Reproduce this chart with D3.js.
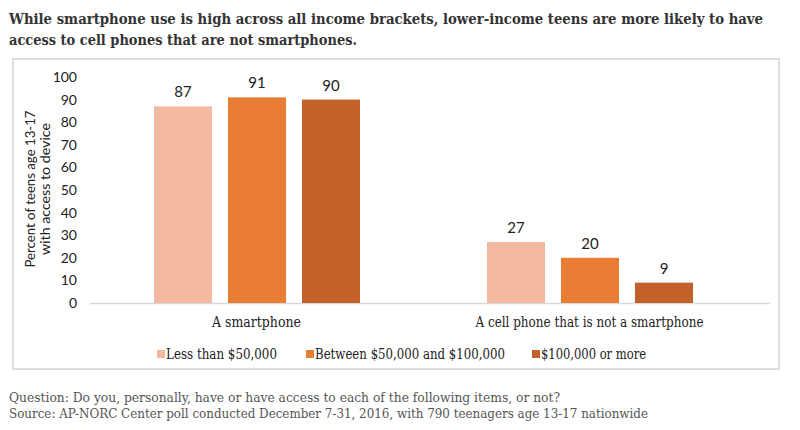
<!DOCTYPE html>
<html>
<head>
<meta charset="utf-8">
<script src="https://cdn.jsdelivr.net/npm/d3@7"></script>
<style>
  html, body { margin: 0; padding: 0; background: #fff; }
  svg { display: block; }
</style>
</head>
<body>
<svg id="chart" width="800" height="430"></svg>
<script>
const categories = ["A smartphone", "A cell phone that is not a smartphone"];
const seriesNames = ["Less than $50,000", "Between $50,000 and $100,000", "$100,000 or more"];
const lessThan50k = [87, 27];
const between50k100k = [91, 20];
const over100k = [90, 9];
const seriesValues = [lessThan50k, between50k100k, over100k];
const yTicks = [0, 10, 20, 30, 40, 50, 60, 70, 80, 90, 100];
const colors = ["#F4B9A1", "#E97D33", "#C2622A"];

const titleLines = [
  "While smartphone use is high across all income brackets, lower-income teens are more likely to have",
  "access to cell phones that are not smartphones."
];
const footerLines = [
  "Question: Do you, personally, have or have access to each of the following items, or not?",
  "Source: AP-NORC Center poll conducted December 7-31, 2016, with 790 teenagers age 13-17 nationwide"
];

const svg = d3.select("#chart");

// Title
svg.append("g").selectAll("text").data(titleLines).join("text")
  .attr("x", 9).attr("y", (d, i) => 24 + i * 21)
  .attr("textLength", (d, i) => i === 0 ? 754 : 348)
  .attr("lengthAdjust", "spacingAndGlyphs")
  .style("font-family", "'DejaVu Serif Condensed', 'DejaVu Serif', serif")
  .style("font-weight", "bold").style("font-size", "15px").style("fill", "#333")
  .text(d => d);

// Box
svg.append("rect").attr("x", 13).attr("y", 59).attr("width", 766).attr("height", 310)
  .attr("fill", "none").attr("stroke", "#dcdcdc").attr("stroke-width", 2);

// Scales
const y = d3.scaleLinear().domain([0, 100]).range([303, 77]);
const x0 = d3.scaleBand().domain(categories).range([90, 756]).padding(0);
const x1 = d3.scaleBand().domain(seriesNames).range([64, 270]).paddingInner(0.216).paddingOuter(0);

// Y axis labels
const yAxis = d3.axisLeft(y).tickValues(yTicks).tickSize(0).tickPadding(0);
const yg = svg.append("g").attr("transform", "translate(77,0)").call(yAxis);
yg.select(".domain").remove();
yg.selectAll("text")
  .style("font-family", "Lato, 'Open Sans', sans-serif")
  .style("font-size", "14px").style("fill", "#222");

// Y title
const yt = svg.append("g").attr("transform", "translate(35,189) rotate(-90)");
yt.selectAll("text").data(["Percent of teens age 13-17", "with access to device"]).join("text")
  .attr("x", 0).attr("y", (d, i) => i * 15)
  .attr("text-anchor", "middle")
  .attr("textLength", (d, i) => i === 0 ? 157 : 132)
  .attr("lengthAdjust", "spacingAndGlyphs")
  .style("font-family", "Lato, 'Open Sans', sans-serif")
  .style("font-size", "14px").style("fill", "#222")
  .text(d => d);

// Baseline
svg.append("line").attr("x1", 90).attr("x2", 770).attr("y1", y(0) + 0.5).attr("y2", y(0) + 0.5)
  .attr("stroke", "#d9d9d9").attr("stroke-width", 1.5);

// Bars
const flat = [];
categories.forEach((c, ci) => seriesNames.forEach((s, si) => flat.push({ c, s, si, v: seriesValues[si][ci] })));

svg.append("g").selectAll("rect").data(flat).join("rect")
  .attr("x", d => x0(d.c) + x1(d.s))
  .attr("y", d => y(d.v))
  .attr("width", x1.bandwidth())
  .attr("height", d => y(0) - y(d.v))
  .attr("fill", d => colors[d.si]);

svg.append("g").selectAll("text").data(flat).join("text")
  .attr("x", d => x0(d.c) + x1(d.s) + x1.bandwidth() / 2)
  .attr("y", d => y(d.v) - 9)
  .attr("text-anchor", "middle")
  .style("font-family", "Lato, 'Open Sans', sans-serif")
  .style("font-size", "15px").style("fill", "#222")
  .text(d => d.v);

// Category labels
svg.append("g").selectAll("text").data(categories).join("text")
  .attr("x", d => x0(d) + x0.bandwidth() / 2)
  .attr("y", 327)
  .attr("text-anchor", "middle")
  .attr("textLength", (d, i) => i === 0 ? 89 : 228)
  .attr("lengthAdjust", "spacingAndGlyphs")
  .style("font-family", "'DejaVu Serif Condensed', 'DejaVu Serif', serif")
  .style("font-size", "14px").style("fill", "#222")
  .text(d => d);

// Legend
const legendX = [157, 306, 532];
const legendW = [111, 190, 105];
const lg = svg.append("g").selectAll("g").data(seriesNames).join("g")
  .attr("transform", (d, i) => `translate(${legendX[i]},355)`);
lg.append("rect").attr("x", 0).attr("y", -5).attr("width", 8).attr("height", 8)
  .attr("fill", (d, i) => colors[i]);
lg.append("text").attr("x", 9).attr("y", 4)
  .attr("textLength", (d, i) => legendW[i])
  .attr("lengthAdjust", "spacingAndGlyphs")
  .style("font-family", "'DejaVu Serif Condensed', 'DejaVu Serif', serif")
  .style("font-size", "14px").style("fill", "#222")
  .text(d => d);

// Footer
svg.append("g").selectAll("text").data(footerLines).join("text")
  .attr("x", 9).attr("y", (d, i) => 402 + i * 16)
  .attr("textLength", (d, i) => i === 0 ? 551 : 639)
  .attr("lengthAdjust", "spacingAndGlyphs")
  .style("font-family", "'DejaVu Serif Condensed', 'DejaVu Serif', serif")
  .style("font-size", "13.5px").style("fill", "#555")
  .text(d => d);
</script>
</body>
</html>
